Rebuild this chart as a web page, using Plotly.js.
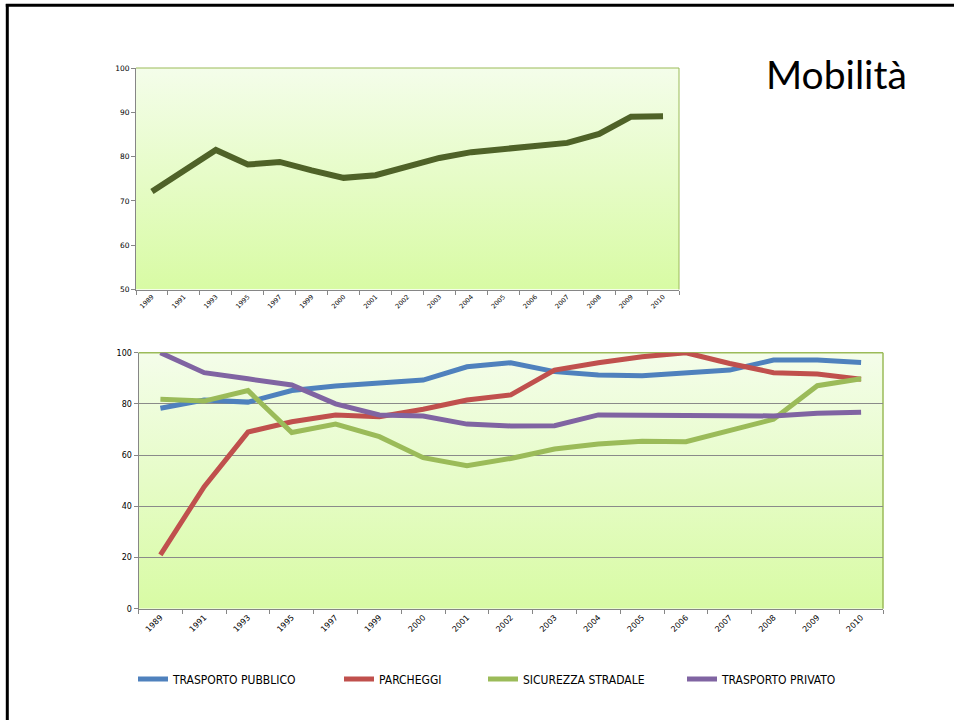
<!DOCTYPE html>
<html>
<head>
<meta charset="utf-8">
<script src="https://cdn.plot.ly/plotly-3.0.1.min.js"></script>
<style>
html,body{margin:0;padding:0;background:#fff;}
#chart{width:954px;height:720px;}
</style>
</head>
<body>
<div id="chart"></div>
<script>
const years = ["1989","1991","1993","1995","1997","1999","2000","2001","2002","2003","2004","2005","2006","2007","2008","2009","2010"];

const mobilita = [72.1, 76.6, 81.5, 78.2, 78.8, 76.9, 75.2, 75.8, 77.6, 79.7, 81.0, 81.8, 82.4, 83.1, 85.1, 89.0, 89.1];

const trasportoPubblico = [78.3, 81.5, 80.7, 85.2, 87.0, 88.3, 89.3, 94.5, 96.1, 92.6, 91.3, 91.0, 92.3, 93.2, 97.1, 97.1, 96.2];
const parcheggi = [21.0, 47.7, 69.0, 73.0, 75.7, 75.0, 77.9, 81.5, 83.5, 93.2, 96.1, 98.4, 100.0, 95.8, 92.2, 91.7, 89.6];
const sicurezzaStradale = [81.8, 81.1, 85.2, 68.8, 72.1, 67.2, 59.0, 55.9, 58.7, 62.4, 64.3, 65.4, 65.2, 69.5, 74.0, 87.1, 89.8];
const trasportoPrivato = [100.0, 92.2, 89.8, 87.4, 80.0, 75.7, 75.3, 72.1, 71.4, 71.5, 75.7, 75.8, 75.5, 75.4, 75.3, 76.3, 76.7];

const seriesNames = ["TRASPORTO PUBBLICO", "PARCHEGGI", "SICUREZZA STRADALE", "TRASPORTO PRIVATO"];
const topTickVals = [50, 60, 70, 80, 90, 100];
const bottomTickVals = [0, 20, 40, 60, 80, 100];

(function () {
const W = 954, H = 720;
const px = v => v / W;
const py = v => 1 - v / H;

const gradSvg = '<svg xmlns="http://www.w3.org/2000/svg" width="100" height="100" preserveAspectRatio="none">' +
  '<defs><linearGradient id="g" x1="0" y1="0" x2="0" y2="1">' +
  '<stop offset="0" stop-color="#f4fdea"/><stop offset="1" stop-color="#d8fba4"/></linearGradient></defs>' +
  '<rect width="100" height="100" fill="url(#g)"/></svg>';
const gradSrc = 'data:image/svg+xml;base64,' + btoa(gradSvg);

const boxTop = {x0: 136, x1: 679, y0: 68, y1: 289.5};
const boxBot = {x0: 138.5, x1: 883, y0: 352.7, y1: 608.7};
const catRange = [-0.5, years.length - 0.5];

const lineW = 5;
const traces = [
  {x: years, y: mobilita, type: 'scatter', mode: 'lines', xaxis: 'x', yaxis: 'y',
   line: {color: '#4f6228', width: 6}, showlegend: false, hoverinfo: 'skip'},
  {x: years, y: trasportoPubblico, name: seriesNames[0], type: 'scatter', mode: 'lines', xaxis: 'x2', yaxis: 'y2',
   line: {color: '#4f81bd', width: lineW}, legend: 'legend'},
  {x: years, y: parcheggi, name: seriesNames[1], type: 'scatter', mode: 'lines', xaxis: 'x2', yaxis: 'y2',
   line: {color: '#c0504d', width: lineW}, legend: 'legend2'},
  {x: years, y: sicurezzaStradale, name: seriesNames[2], type: 'scatter', mode: 'lines', xaxis: 'x2', yaxis: 'y2',
   line: {color: '#9bbb59', width: lineW}, legend: 'legend3'},
  {x: years, y: trasportoPrivato, name: seriesNames[3], type: 'scatter', mode: 'lines', xaxis: 'x2', yaxis: 'y2',
   line: {color: '#8064a2', width: lineW}, legend: 'legend4'}
];

const tickFontFamily = 'Verdana, "DejaVu Sans", sans-serif';
const legFont = {family: '"Liberation Sans Narrow", "DejaVu Sans Condensed", "Arial Narrow", sans-serif', size: 12, color: '#000'};
function leg(xPix) {
  return {x: px(xPix), y: py(679), xanchor: 'left', yanchor: 'middle', orientation: 'h',
          bgcolor: 'rgba(0,0,0,0)', borderwidth: 0, font: legFont, itemwidth: 30};
}

const axisX = {
  type: 'category', range: catRange, autorange: false, showgrid: false, zeroline: false, showline: true,
  linecolor: '#868686', linewidth: 1,
  ticks: 'outside', tickson: 'boundaries', ticklen: 4, tickcolor: '#868686', tickangle: -45,
  fixedrange: true
};

const layout = {
  width: W, height: H,
  margin: {l: 0, r: 0, t: 0, b: 0},
  paper_bgcolor: '#ffffff',
  plot_bgcolor: 'rgba(0,0,0,0)',
  showlegend: true,
  xaxis: Object.assign({}, axisX, {domain: [px(boxTop.x0), px(boxTop.x1)], anchor: 'y',
    tickfont: {family: tickFontFamily, size: 6.5, color: '#000'}}),
  yaxis: {domain: [py(boxTop.y1), py(boxTop.y0)], anchor: 'x', range: [50, 100], tickvals: topTickVals,
    showgrid: false, zeroline: false, showline: true, linecolor: '#868686', linewidth: 1,
    ticks: 'outside', ticklen: 4, tickcolor: '#868686',
    tickfont: {family: tickFontFamily, size: 7.5, color: '#000'}, fixedrange: true},
  xaxis2: Object.assign({}, axisX, {domain: [px(boxBot.x0), px(boxBot.x1)], anchor: 'y2',
    tickfont: {family: tickFontFamily, size: 8, color: '#000'}}),
  yaxis2: {domain: [py(boxBot.y1), py(boxBot.y0)], anchor: 'x2', range: [0, 100], tickvals: bottomTickVals,
    showgrid: true, gridcolor: '#8a8a8a', gridwidth: 1, zeroline: false, showline: true,
    linecolor: '#868686', linewidth: 1, ticks: 'outside', ticklen: 4, tickcolor: '#868686',
    tickfont: {family: tickFontFamily, size: 8, color: '#000'}, fixedrange: true},
  legend: leg(133),
  legend2: leg(339),
  legend3: leg(483),
  legend4: leg(682),
  images: [
    {source: gradSrc, xref: 'paper', yref: 'paper', x: px(boxTop.x0), y: py(boxTop.y0),
     sizex: px(boxTop.x1) - px(boxTop.x0), sizey: py(boxTop.y0) - py(boxTop.y1), sizing: 'stretch', layer: 'below',
     xanchor: 'left', yanchor: 'top'},
    {source: gradSrc, xref: 'paper', yref: 'paper', x: px(boxBot.x0), y: py(boxBot.y0),
     sizex: px(boxBot.x1) - px(boxBot.x0), sizey: py(boxBot.y0) - py(boxBot.y1), sizing: 'stretch', layer: 'below',
     xanchor: 'left', yanchor: 'top'}
  ],
  shapes: [
    {type: 'line', xref: 'paper', yref: 'paper', x0: px(5.8), x1: 1, y0: py(5.3), y1: py(5.3), line: {color: '#000', width: 3}},
    {type: 'line', xref: 'paper', yref: 'paper', x0: px(7.3), x1: px(7.3), y0: py(4), y1: 0, line: {color: '#000', width: 3}},
    {type: 'line', xref: 'x domain', yref: 'y domain', x0: 0, x1: 1, y0: 1, y1: 1, line: {color: '#9bbb59', width: 1}, layer: 'below'},
    {type: 'line', xref: 'x domain', yref: 'y domain', x0: 1, x1: 1, y0: 0, y1: 1, line: {color: '#9bbb59', width: 1}, layer: 'below'},
    {type: 'line', xref: 'x2 domain', yref: 'y2 domain', x0: 0, x1: 1, y0: 1, y1: 1, line: {color: '#9bbb59', width: 1.5}, layer: 'below'},
    {type: 'line', xref: 'x2 domain', yref: 'y2 domain', x0: 1, x1: 1, y0: 0, y1: 1, line: {color: '#9bbb59', width: 1.5}, layer: 'below'}
  ],
  annotations: [
    {text: 'Mobilità', xref: 'paper', yref: 'paper', x: px(764), y: py(74), xanchor: 'left', yanchor: 'middle',
     showarrow: false, font: {family: 'Lato, "Open Sans", sans-serif', size: 39, color: '#000'}}
  ]
};

Plotly.newPlot('chart', traces, layout, {displayModeBar: false, staticPlot: true});
})();
</script>
</body>
</html>
